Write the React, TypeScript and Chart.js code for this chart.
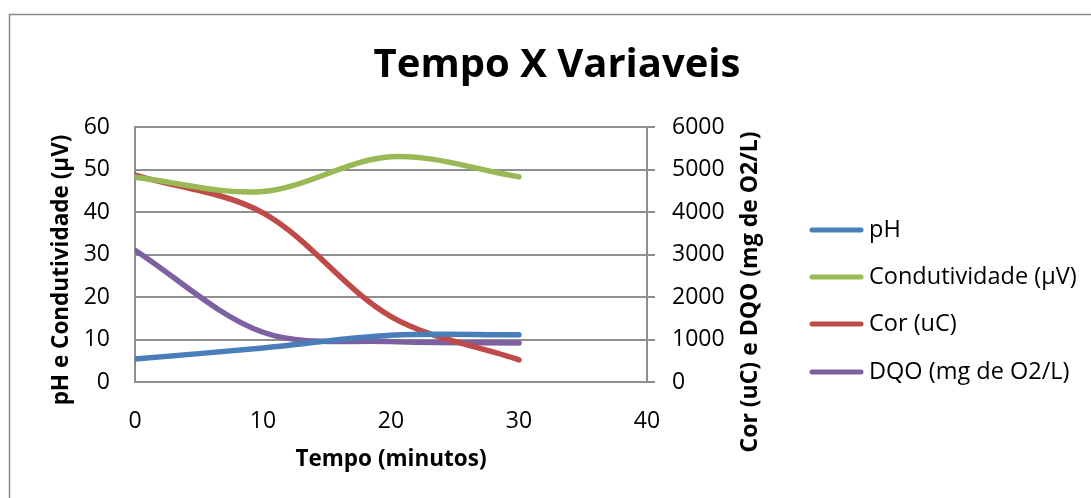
import React, { useEffect, useRef } from "react";
import { Chart, registerables } from "chart.js";

Chart.register(...registerables);

const tempo = [0, 10, 20, 30];
const ph = [5.4, 8.0, 11.0, 11.1];
const condutividade = [48.2, 44.8, 53.0, 48.3];
const cor = [4870, 3980, 1540, 520];
const dqo = [3100, 1170, 950, 920];

const seriesNames = ["pH", "Condutividade (µV)", "Cor (uC)", "DQO (mg de O2/L)"];
const seriesColors = ["#4A7EBB", "#98B954", "#BE4B48", "#7D60A0"];

const chartTitle = "Tempo X Variaveis";
const xTitle = "Tempo (minutos)";
const yLeftTitle = "pH e Condutividade (µV)";
const yRightTitle = "Cor (uC) e DQO (mg de O2/L)";

const FONT = "'Open Sans', Lato, sans-serif";
const GRID = "#8f8f8f";

const toPoints = (ys: number[]) => ys.map((y, i) => ({ x: tempo[i], y }));

const decorPlugin = {
  id: "decor",
  beforeDraw(chart: any) {
    const ctx = chart.ctx;
    ctx.save();
    ctx.fillStyle = "#ffffff";
    ctx.fillRect(0, 0, chart.width, chart.height);
    ctx.strokeStyle = "#8a8a8a";
    ctx.lineWidth = 1.5;
    ctx.strokeRect(9.5, 14.5, 2000, 2000);
    ctx.restore();
  },
  afterDraw(chart: any) {
    const ctx = chart.ctx;
    const area = chart.chartArea;
    ctx.save();
    ctx.fillStyle = "#000";
    // title
    ctx.font = `bold 40px ${FONT}`;
    ctx.textAlign = "center";
    ctx.textBaseline = "alphabetic";
    ctx.fillText(chartTitle, 557, 77);
    // x title
    ctx.font = `bold 22.5px ${FONT}`;
    ctx.fillText(xTitle, (area.left + area.right) / 2, 466);
    // left title
    ctx.save();
    ctx.translate(62, 270);
    ctx.rotate(-Math.PI / 2);
    ctx.textBaseline = "middle";
    ctx.font = `bold 22.5px ${FONT}`;
    ctx.fillText(yLeftTitle, 0, 0);
    ctx.restore();
    // right title
    ctx.save();
    ctx.translate(750, 292);
    ctx.rotate(-Math.PI / 2);
    ctx.textBaseline = "middle";
    ctx.font = `bold 23px ${FONT}`;
    ctx.fillText(yRightTitle, 0, 0);
    ctx.restore();
    // legend
    const rows = [230, 277, 324, 372];
    ctx.font = `23.5px ${FONT}`;
    ctx.textAlign = "left";
    ctx.textBaseline = "middle";
    seriesNames.forEach((name, i) => {
      ctx.strokeStyle = seriesColors[i];
      ctx.lineWidth = 5;
      ctx.lineCap = "round";
      ctx.beginPath();
      ctx.moveTo(812, rows[i]);
      ctx.lineTo(861, rows[i]);
      ctx.stroke();
      ctx.fillText(name, 869, rows[i]);
    });
    ctx.restore();
  },
};

export default function App() {
  const ref = useRef<HTMLCanvasElement | null>(null);
  useEffect(() => {
    if (!ref.current) return;
    const mk = (i: number, data: number[], axis: string) => ({
      label: seriesNames[i],
      data: toPoints(data),
      borderColor: seriesColors[i],
      backgroundColor: seriesColors[i],
      borderWidth: 5.5,
      borderCapStyle: "round",
      pointRadius: 0,
      tension: 0.33,
      fill: false,
      yAxisID: axis,
    });
    const tickFont = { family: FONT, size: 23 };
    const chart = new Chart(ref.current, {
      type: "line",
      data: {
        datasets: [
          mk(0, ph, "y"),
          mk(1, condutividade, "y"),
          mk(2, cor, "y2"),
          mk(3, dqo, "y2"),
        ] as any,
      },
      options: {
        animation: false,
        responsive: false,
        maintainAspectRatio: false,
        layout: { padding: { left: 0, top: 127, right: 326, bottom: 0 } },
        plugins: { legend: { display: false }, title: { display: false }, tooltip: { enabled: false } },
        scales: {
          x: {
            type: "linear",
            min: 0,
            max: 40,
            ticks: { stepSize: 10, color: "#000", font: tickFont, padding: 18, maxRotation: 0, callback: (v: any) => String(v) },
            grid: { display: false },
            border: { display: false },
            afterFit: (s: any) => { s.height = 116; },
          },
          y: {
            position: "left",
            min: 0,
            max: 60,
            ticks: { stepSize: 10, color: "#000", font: tickFont, padding: 25, callback: (v: any) => String(v) },
            grid: { color: GRID, lineWidth: 2, drawTicks: false },
            border: { display: true, color: GRID, width: 2 },
            afterFit: (s: any) => { s.width = 135; },
          },
          y2: {
            position: "right",
            min: 0,
            max: 6000,
            ticks: { stepSize: 1000, color: "#000", font: tickFont, padding: 17, callback: (v: any) => String(v) },
            grid: { drawOnChartArea: false, color: GRID, lineWidth: 2, drawTicks: true, tickLength: 8 },
            border: { display: true, color: GRID, width: 2 },
            afterFit: (s: any) => { s.width = 118; },
          },
        },
      } as any,
      plugins: [decorPlugin],
    });
    return () => chart.destroy();
  }, []);
  return (
    <div style={{ position: "fixed", left: 0, top: 0, width: 1091, height: 498, background: "#fff" }}>
      <canvas ref={ref} width={1091} height={498} style={{ display: "block", width: 1091, height: 498 }} />
    </div>
  );
}
